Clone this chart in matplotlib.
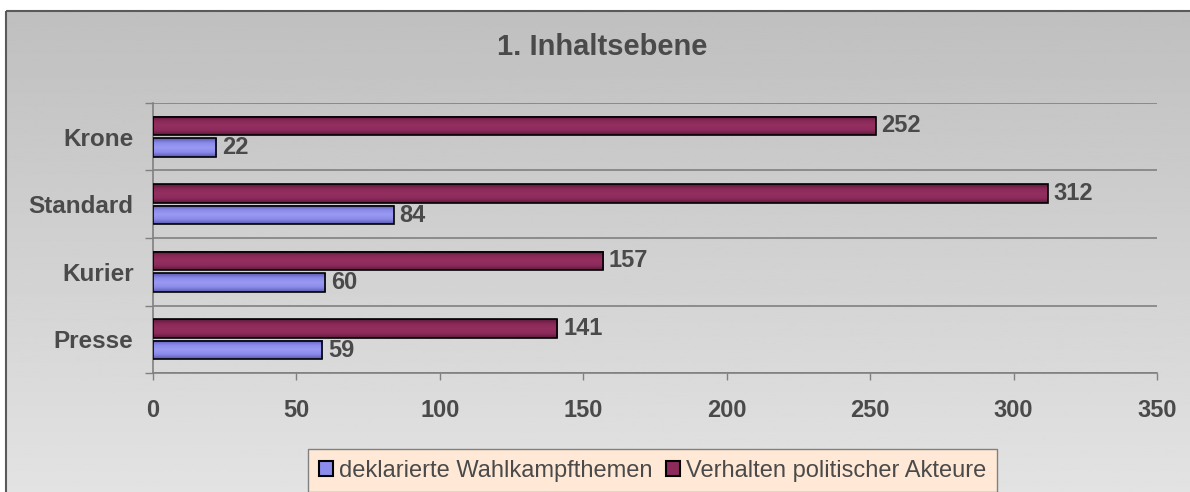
import numpy as np
import matplotlib
matplotlib.use("Agg")
import matplotlib.pyplot as plt
from matplotlib.patches import Rectangle
from matplotlib.colors import LinearSegmentedColormap

plt.rcParams['font.family'] = ['Liberation Sans', 'DejaVu Sans']

# Data (top to bottom as shown)
categories = ["Krone", "Standard", "Kurier", "Presse"]
themen = [22, 84, 60, 59]          # deklarierte Wahlkampfthemen
verhalten = [252, 312, 157, 141]   # Verhalten politischer Akteure
series_names = ["deklarierte Wahlkampfthemen", "Verhalten politischer Akteure"]
x_ticks = [0, 50, 100, 150, 200, 250, 300, 350]

TXT = '#4a4a4a'
W, H = 1190, 492

fig = plt.figure(figsize=(W / 100, H / 100), dpi=100)
fig.patch.set_facecolor('white')

# background with vertical gradient and border
bg = fig.add_axes([0, 0, 1, 1])
bg.set_xlim(0, W)
bg.set_ylim(H, 0)
bg.axis('off')
grad = np.linspace(0.75, 0.89, 256).reshape(-1, 1)
bg.imshow(grad, cmap='gray', vmin=0, vmax=1, aspect='auto',
          extent=(6, W + 5, H + 5, 11), zorder=0)
bg.add_patch(Rectangle((6, 11), W, H, fill=False, edgecolor='#5a5a5a', lw=1.5, zorder=1))
bg.text(602, 47, "1. Inhaltsebene", ha='center', va='center', fontsize=21,
        fontweight='bold', color=TXT)

# plot area
x0, x1, ytop, ybot = 153, 1157, 103, 373
ax = fig.add_axes([x0 / W, (H - ybot) / H, (x1 - x0) / W, (ybot - ytop) / H])
ax.set_facecolor('none')

n = len(categories)
ypos = np.arange(n)[::-1]
h = 0.27
off = 0.16
b1 = ax.barh(ypos + off, verhalten, height=h, color='#8b2a5b', edgecolor='black', lw=1.2, zorder=3)
b2 = ax.barh(ypos - off, themen, height=h, color='#8c8ced', edgecolor='black', lw=1.2, zorder=3)

# subtle shading inside the bars
cm_red = LinearSegmentedColormap.from_list('r', ['#5e1a3c', '#8e2b5c', '#93305f', '#8a2958', '#5e1a3c'])
cm_blue = LinearSegmentedColormap.from_list('b', ['#5a5ab0', '#8a8aea', '#9a9af4', '#8a8aea', '#5a5ab0'])
gvals = np.linspace(0, 1, 64).reshape(-1, 1)
for bars, cm in ((b1, cm_red), (b2, cm_blue)):
    for rect in bars:
        bx, by, bw, bh = rect.get_x(), rect.get_y(), rect.get_width(), rect.get_height()
        ax.imshow(gvals, cmap=cm, aspect='auto', extent=(bx, bx + bw, by, by + bh),
                  origin='lower', zorder=3.5, interpolation='bilinear')
        rect.set_facecolor('none')
        rect.set_zorder(3.6)

for bars, vals in ((b1, verhalten), (b2, themen)):
    for rect, v in zip(bars, vals):
        ax.annotate(str(v), (v, rect.get_y() + rect.get_height() / 2),
                    xytext=(4, 0), textcoords='offset points', va='center', ha='left',
                    fontsize=17, fontweight='bold', color=TXT, zorder=4)

ax.set_xlim(0, 350)
ax.set_ylim(-0.5, n - 0.5)

# horizontal gridlines at category boundaries
for yb in np.arange(-0.5, n, 1.0):
    ax.axhline(yb, color='#808080', lw=1.2, zorder=1)

for s in ('top', 'right'):
    ax.spines[s].set_visible(False)
ax.spines['left'].set_color('#808080')
ax.spines['bottom'].set_color('#808080')
ax.spines['left'].set_linewidth(1.2)
ax.spines['bottom'].set_linewidth(1.2)

ax.set_xticks(x_ticks)
ax.set_xticklabels([str(t) for t in x_ticks])
ax.tick_params(axis='x', direction='out', length=5, width=1, color='#808080',
               pad=14, labelsize=17, labelcolor=TXT)
for lbl in ax.get_xticklabels():
    lbl.set_fontweight('bold')

ax.set_yticks(ypos)
ax.set_yticklabels(categories)
ax.tick_params(axis='y', which='major', length=0, pad=14, labelsize=17.5, labelcolor=TXT)
for lbl in ax.get_yticklabels():
    lbl.set_fontweight('bold')
ax.set_yticks(np.arange(-0.5, n, 1.0), minor=True)
ax.tick_params(axis='y', which='minor', direction='out', length=6, width=1, color='#808080')

# legend
leg_handles = [Rectangle((0, 0), 1, 1, facecolor='#8c8ced', edgecolor='black', lw=1.5),
               Rectangle((0, 0), 1, 1, facecolor='#8b2a5b', edgecolor='black', lw=1.5)]
leg = fig.legend(leg_handles, series_names, loc='upper left',
                 bbox_to_anchor=(308 / W, 1 - 449 / H), ncol=2, fontsize=17,
                 frameon=True, fancybox=False, handlelength=0.62, handleheight=0.62,
                 handletextpad=0.25, columnspacing=0.55, borderpad=0.45,
                 borderaxespad=0)
leg.get_frame().set_facecolor('#ffe9d6')
leg.get_frame().set_edgecolor('#808080')
leg.get_frame().set_alpha(1)
for t in leg.get_texts():
    t.set_color(TXT)

fig.savefig('out.png', dpi=100)
